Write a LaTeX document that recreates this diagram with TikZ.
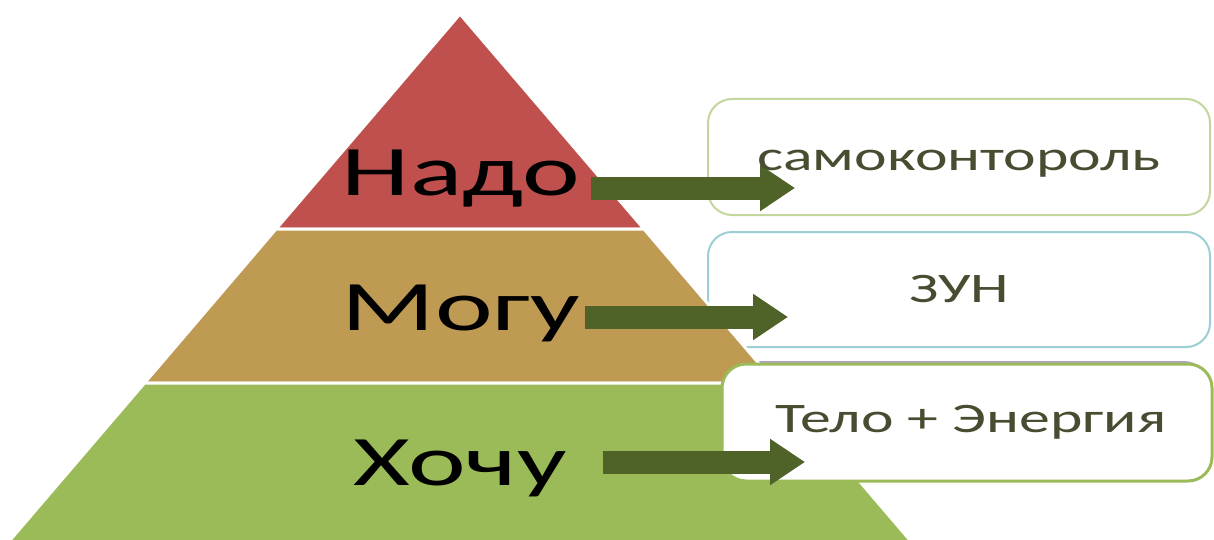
\documentclass[tikz,border=0pt]{standalone}
\usepackage{fontspec}
\newfontfamily\widefont{Carlito}[FakeStretch=1.47]
\newfontfamily\widerfont{Carlito}[FakeStretch=1.54]
\usepackage{xcolor}
\usepackage{tikz}
\usetikzlibrary{arrows.meta,positioning,calc}
\definecolor{nadored}{HTML}{C0504D}
\definecolor{mogutan}{HTML}{BE9A53}
\definecolor{hochugreen}{HTML}{9BBB59}
\definecolor{arrowgreen}{HTML}{4F6228}
\definecolor{cardtext}{HTML}{464D30}
\definecolor{edgeA}{HTML}{C3D69B}
\definecolor{edgeB}{HTML}{9CCFD4}
\definecolor{edgeC}{HTML}{B3A2C7}
\definecolor{edgeD}{HTML}{9BBB59}

\begin{document}
\begin{tikzpicture}[x=0.5pt,y=-0.5pt,
  band/.style={draw=white,line width=1.5pt},
  card/.style={draw,fill=white,rounded corners=12pt,line width=1pt,inner sep=0pt},
  bigword/.style={font=\widerfont\fontsize{35.5}{40}\selectfont,inner sep=0pt,anchor=base},
  cardword/.style={font=\widefont\fontsize{21}{25}\selectfont,text=cardtext,inner sep=0pt,anchor=base},
  fatarrow/.style={draw=arrowgreen,line width=11.5pt,-{Triangle[length=17.5pt,width=22pt]}}]
  \useasboundingbox (0,0) rectangle (1214,540);
  % cards behind the pyramid
  \node[card,draw=edgeA,minimum width=251pt,minimum height=58pt] (box1) at (959,157) {};
  \node[card,draw=edgeB,minimum width=251pt,minimum height=57.5pt] (box2) at (959,289.5) {};
  \node[card,draw=edgeC,minimum width=249pt,minimum height=58pt] (box0) at (959,420) {};
  % pyramid
  \fill[nadored,band] (460,14) -- (644,229) -- (276,229) -- cycle;
  \fill[mogutan,band] (644,229) -- (775.5,383) -- (144.5,383) -- (276,229) -- cycle;
  \fill[hochugreen,band] (775.5,383) -- (927,560) -- (-7,560) -- (144.5,383) -- cycle;
  % card in front
  \node[card,draw=edgeD,line width=1.5pt,minimum width=245pt,minimum height=58.5pt] (box3) at (967,422.5) {};
  \node[bigword] (nado) at (461,195) {Надо};
  \node[bigword] (mogu) at (461,330) {Могу};
  \node[bigword] (hochu) at (460,485) {Хочу};
  \coordinate (tip1) at (795,188);
  \coordinate (tip2) at (788,317);
  \coordinate (tip3) at (805,462);
  \draw[fatarrow] ([xshift=5.5pt]nado.east |- tip1) -- (tip1);
  \draw[fatarrow] ([xshift=2pt]mogu.east |- tip2) -- (tip2);
  \draw[fatarrow] ([xshift=18pt]hochu.east |- tip3) -- (tip3);
  \node[cardword] (samo) at ([yshift=-6.5pt]box1.center) {самоконтороль};
  \node[cardword] (zun) at ([yshift=-6.25pt]box2.center) {ЗУН};
  \node[cardword] (telo) at ([xshift=2pt,yshift=-4.75pt]box3.center) {Тело + Энергия};
\end{tikzpicture}
\end{document}
